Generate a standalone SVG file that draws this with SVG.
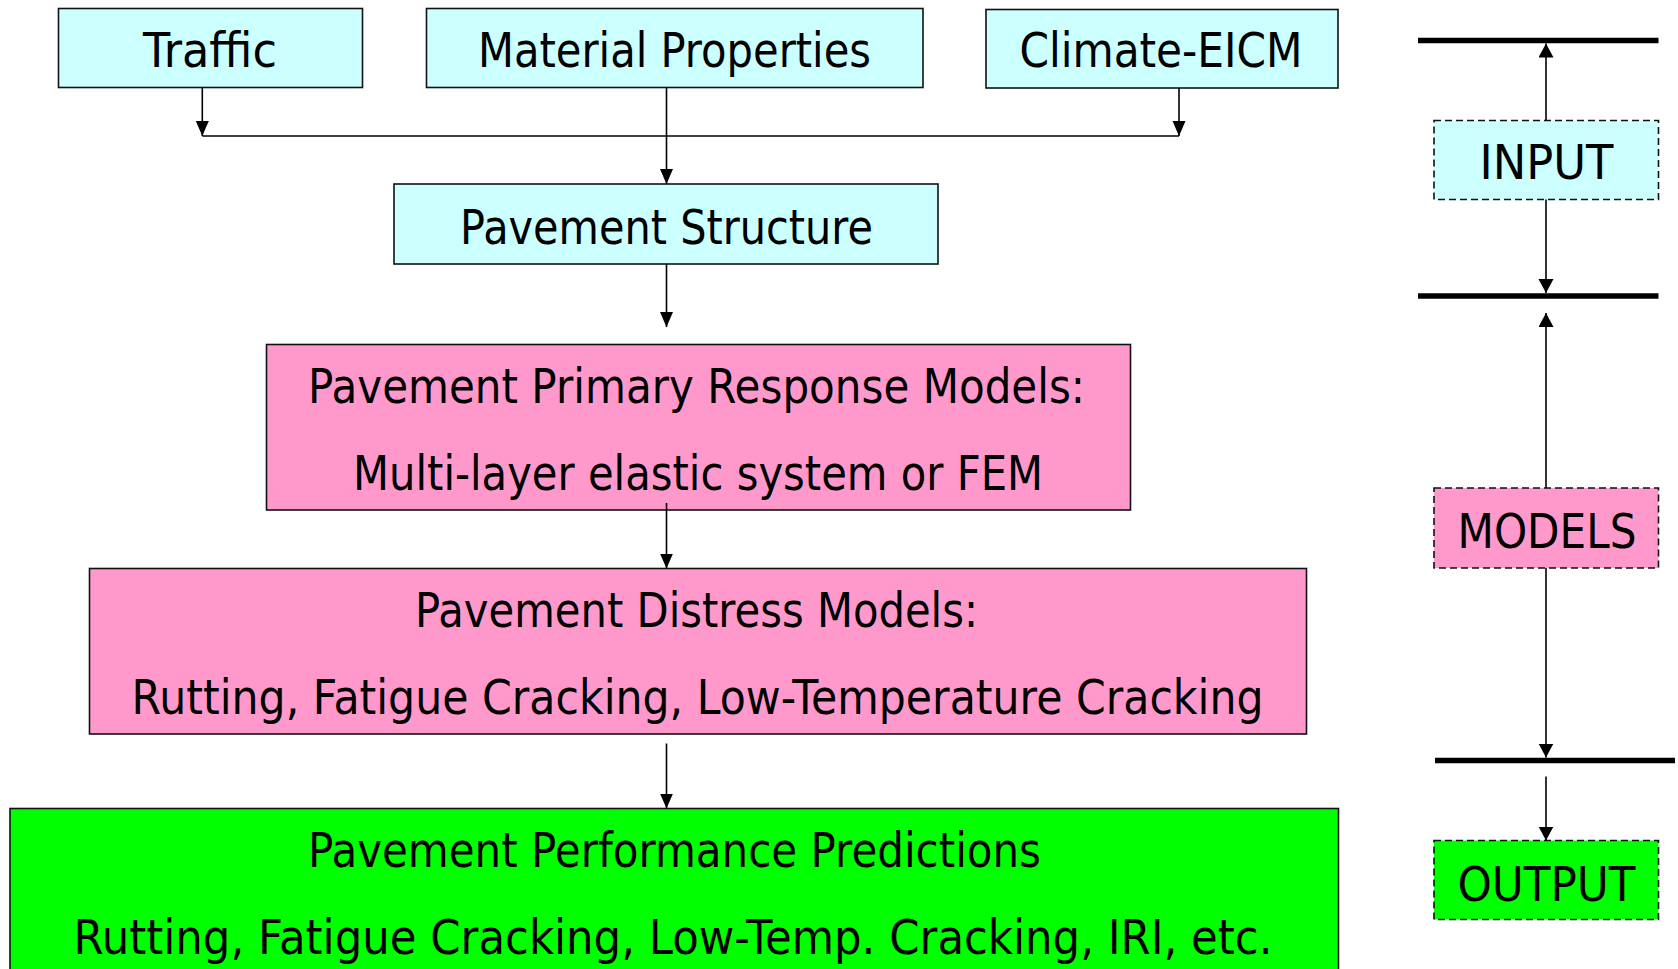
<svg xmlns="http://www.w3.org/2000/svg" width="1678" height="969" viewBox="0 0 1678 969">
<style>
.box{stroke:#111;stroke-width:1.6}
.cyan{fill:#ccffff}
.pink{fill:#ff99cc}
.green{fill:#00ff00}
.dash{stroke:#111;stroke-width:1.6;stroke-dasharray:7 4}
.t{font-family:"DejaVu Sans","Liberation Sans",sans-serif;font-size:48px;fill:#000}
.ln{stroke:#000;stroke-width:1.6;fill:none}
.bar{stroke:#000;stroke-width:5.5}
</style>
<defs>
<marker id="ah" markerUnits="userSpaceOnUse" markerWidth="16" markerHeight="14" refX="15" refY="6.5" orient="auto">
<path d="M0,0 L15,6.5 L0,13 z" fill="#000"/>
</marker>
<marker id="ah2" markerUnits="userSpaceOnUse" markerWidth="16" markerHeight="16" refX="14" refY="7.5" orient="auto">
<path d="M0,0 L14,7.5 L0,15 z" fill="#000"/>
</marker>
</defs>
<rect width="1678" height="969" fill="#fff"/>

<g id="traffic">
<rect class="box cyan" x="58.5" y="8.5" width="304" height="79"/>
<text class="t" x="143" y="67" textLength="134" lengthAdjust="spacingAndGlyphs">Traffic</text>
</g>
<g id="material">
<rect class="box cyan" x="426.5" y="8.5" width="496.5" height="79"/>
<text class="t" x="478" y="67" textLength="393" lengthAdjust="spacingAndGlyphs">Material Properties</text>
</g>
<g id="climate">
<rect class="box cyan" x="986" y="9.5" width="352" height="78.5"/>
<text class="t" x="1019.5" y="67" textLength="283" lengthAdjust="spacingAndGlyphs">Climate-EICM</text>
</g>
<g id="structure">
<rect class="box cyan" x="394" y="184" width="544" height="80"/>
<text class="t" x="460" y="243.5" textLength="413" lengthAdjust="spacingAndGlyphs">Pavement Structure</text>
</g>
<g id="response">
<rect class="box pink" x="266.5" y="344.5" width="864" height="165.5"/>
<text class="t" x="308" y="402.5" textLength="777" lengthAdjust="spacingAndGlyphs">Pavement Primary Response Models:</text>
<text class="t" x="353" y="490" textLength="690" lengthAdjust="spacingAndGlyphs">Multi-layer elastic system or FEM</text>
</g>
<g id="distress">
<rect class="box pink" x="89.5" y="568.5" width="1217" height="165.5"/>
<text class="t" x="415" y="626.5" textLength="563" lengthAdjust="spacingAndGlyphs">Pavement Distress Models:</text>
<text class="t" x="131.5" y="713.5" textLength="1132" lengthAdjust="spacingAndGlyphs">Rutting, Fatigue Cracking, Low-Temperature Cracking</text>
</g>
<g id="performance">
<rect class="box green" x="10" y="808.5" width="1328.5" height="180"/>
<text class="t" x="308" y="866.5" textLength="733" lengthAdjust="spacingAndGlyphs">Pavement Performance Predictions</text>
<text class="t" x="73.5" y="953.5" textLength="1199" lengthAdjust="spacingAndGlyphs">Rutting, Fatigue Cracking, Low-Temp. Cracking, IRI, etc.</text>
</g>

<g id="input">
<rect class="dash cyan" x="1434" y="120.5" width="224.5" height="79"/>
<text class="t" x="1479.5" y="179" textLength="134" lengthAdjust="spacingAndGlyphs">INPUT</text>
</g>
<g id="models">
<rect class="dash pink" x="1434" y="488" width="224.5" height="80"/>
<text class="t" x="1457.5" y="548" textLength="179" lengthAdjust="spacingAndGlyphs">MODELS</text>
</g>
<g id="output">
<rect class="dash green" x="1434" y="840.5" width="224.5" height="79"/>
<text class="t" x="1457.5" y="900.5" textLength="178" lengthAdjust="spacingAndGlyphs">OUTPUT</text>
</g>

<g id="dividers">
<line class="bar" x1="1418" y1="40.5" x2="1658.5" y2="40.5"/>
<line class="bar" x1="1418" y1="296" x2="1658.5" y2="296"/>
<line class="bar" x1="1435" y1="760.5" x2="1675" y2="760.5"/>
</g>

<g id="connectors">
<line class="ln" x1="202.3" y1="87.7" x2="202.3" y2="136" marker-end="url(#ah)"/>
<line class="ln" x1="1179" y1="88" x2="1179" y2="136" marker-end="url(#ah)"/>
<line class="ln" x1="202.3" y1="136" x2="1179" y2="136"/>
<line class="ln" x1="666.5" y1="87.7" x2="666.5" y2="184" marker-end="url(#ah)"/>
<line class="ln" x1="666.5" y1="264" x2="666.5" y2="327" marker-end="url(#ah)"/>
<line class="ln" x1="666.5" y1="503" x2="666.5" y2="568.5" marker-end="url(#ah)"/>
<line class="ln" x1="666.5" y1="743.5" x2="666.5" y2="808.5" marker-end="url(#ah)"/>

<line class="ln" x1="1546" y1="120.5" x2="1546" y2="43.5" marker-end="url(#ah2)"/>
<line class="ln" x1="1546" y1="199.5" x2="1546" y2="293" marker-end="url(#ah2)"/>
<line class="ln" x1="1546" y1="488" x2="1546" y2="313" marker-end="url(#ah2)"/>
<line class="ln" x1="1546" y1="568" x2="1546" y2="757.5" marker-end="url(#ah2)"/>
<line class="ln" x1="1546" y1="776.5" x2="1546" y2="840.5" marker-end="url(#ah2)"/>
</g>
</svg>
